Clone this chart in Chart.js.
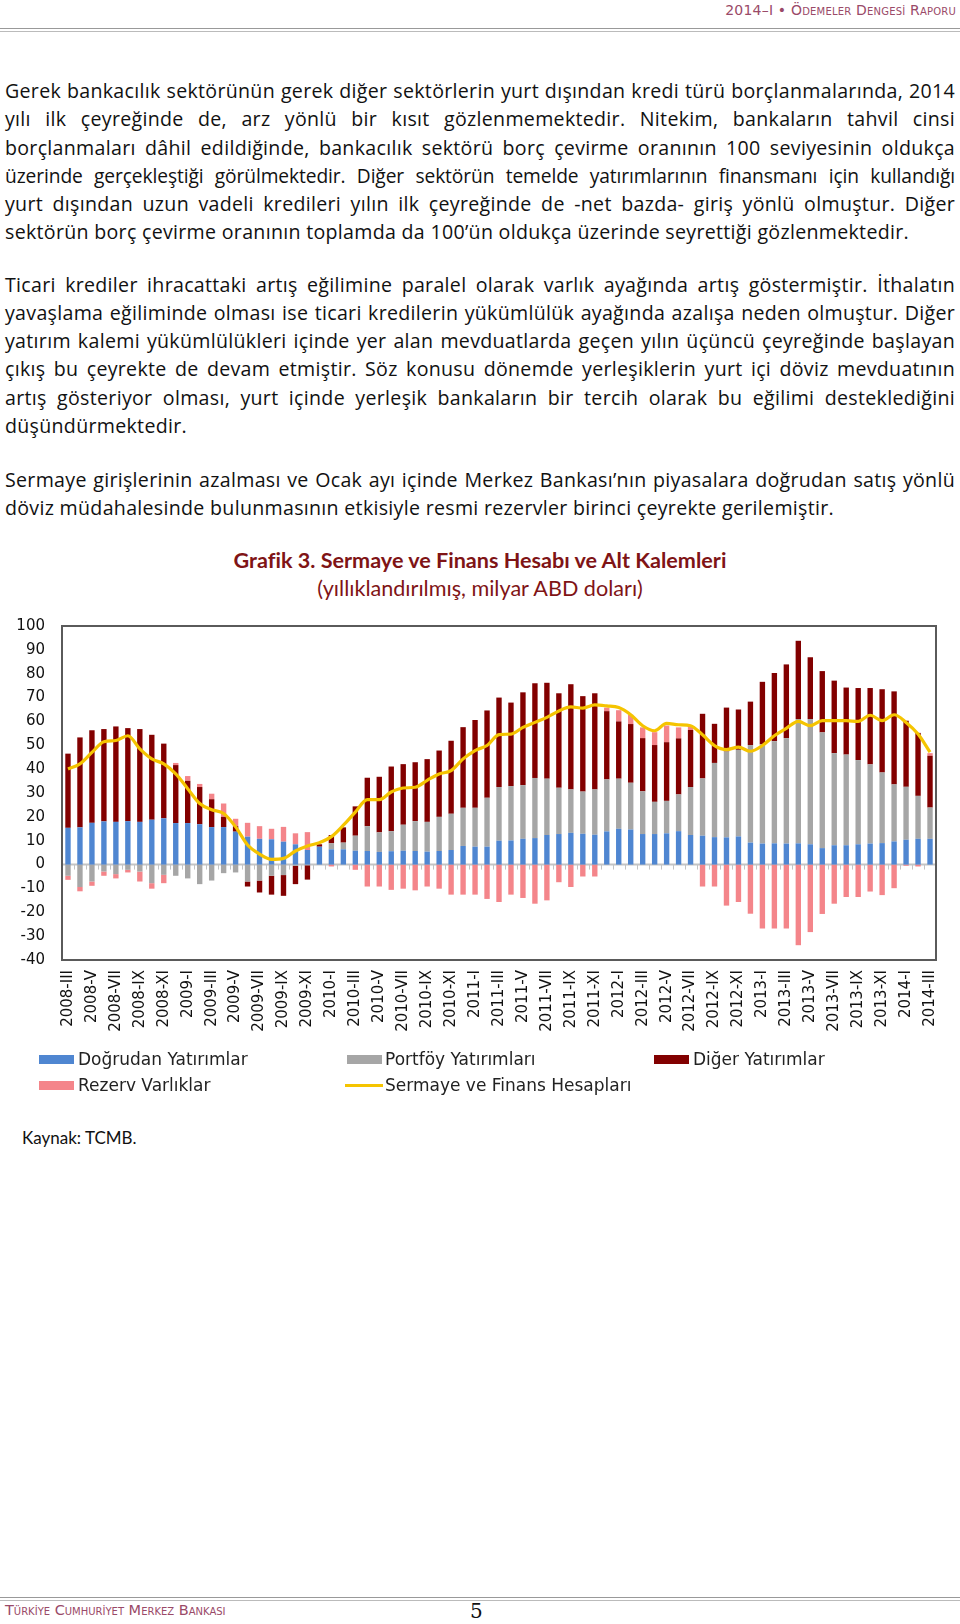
<!DOCTYPE html>
<html lang="tr">
<head>
<meta charset="utf-8">
<script src="https://cdn.jsdelivr.net/npm/chart.js@4.4.1/dist/chart.umd.min.js"></script>
<style>
  html, body { margin:0; padding:0; background:#fff; }
  body { width:960px; height:1624px; position:relative; overflow:hidden; font-family:'Lato','Open Sans',sans-serif; color:#111; }
  .hdr { position:absolute; right:4px; top:2px; font-family:'DejaVu Sans',sans-serif; font-size:14px; font-variant:small-caps; color:#9a4a68; letter-spacing:0.2px; }
  .rule { position:absolute; left:0; width:960px; height:2px; border-top:1px solid #999; border-bottom:1px solid #bbb; }
  .ln { position:absolute; left:5px; width:950px; height:28px; line-height:28px; font-size:19.6px; letter-spacing:0.3px; white-space:nowrap; font-family:'Open Sans',sans-serif; overflow:visible; }
  .j { text-align:justify; text-align-last:justify; white-space:normal; }
  .tight { letter-spacing:-0.1px; font-size:19.2px; }
  .title { position:absolute; left:0; width:960px; text-align:center; color:#7f1416; font-family:'Lato',sans-serif; }
  .leg { position:absolute; font-family:'DejaVu Sans',sans-serif; font-size:17px; color:#222; height:20px; line-height:20px; }
  .sw { position:absolute; width:35px; height:9px; }
  .src { position:absolute; left:22px; top:1127px; font-size:17px; font-family:'Lato',sans-serif; }
  .ftr { position:absolute; left:5px; top:1602px; font-family:'DejaVu Sans',sans-serif; font-size:14.5px; font-variant:small-caps; color:#9a4a68; }
  .pg { position:absolute; left:470px; top:1599px; font-family:'DejaVu Serif','Liberation Serif',serif; font-size:20px; }
</style>
</head>
<body>
<div class="hdr">2014–I • Ödemeler Dengesi Raporu</div>
<div class="rule" style="top:28px"></div>

<div class="ln j" style="top:77px">Gerek bankacılık sektörünün gerek diğer sektörlerin yurt dışından kredi türü borçlanmalarında, 2014</div>
<div class="ln j" style="top:105px">yılı ilk çeyreğinde de, arz yönlü bir kısıt gözlenmemektedir. Nitekim, bankaların tahvil cinsi</div>
<div class="ln j" style="top:134px">borçlanmaları dâhil edildiğinde, bankacılık sektörü borç çevirme oranının 100 seviyesinin oldukça</div>
<div class="ln j tight" style="top:162px">üzerinde gerçekleştiği görülmektedir. Diğer sektörün temelde yatırımlarının finansmanı için kullandığı</div>
<div class="ln j" style="top:190px">yurt dışından uzun vadeli kredileri yılın ilk çeyreğinde de -net bazda- giriş yönlü olmuştur. Diğer</div>
<div class="ln" style="top:218px">sektörün borç çevirme oranının toplamda da 100’ün oldukça üzerinde seyrettiği gözlenmektedir.</div>

<div class="ln j" style="top:271px">Ticari krediler ihracattaki artış eğilimine paralel olarak varlık ayağında artış göstermiştir. İthalatın</div>
<div class="ln j" style="top:299px">yavaşlama eğiliminde olması ise ticari kredilerin yükümlülük ayağında azalışa neden olmuştur. Diğer</div>
<div class="ln j" style="top:327px">yatırım kalemi yükümlülükleri içinde yer alan mevduatlarda geçen yılın üçüncü çeyreğinde başlayan</div>
<div class="ln j" style="top:355px">çıkış bu çeyrekte de devam etmiştir. Söz konusu dönemde yerleşiklerin yurt içi döviz mevduatının</div>
<div class="ln j" style="top:384px">artış gösteriyor olması, yurt içinde yerleşik bankaların bir tercih olarak bu eğilimi desteklediğini</div>
<div class="ln" style="top:412px">düşündürmektedir.</div>

<div class="ln j" style="top:466px">Sermaye girişlerinin azalması ve Ocak ayı içinde Merkez Bankası’nın piyasalara doğrudan satış yönlü</div>
<div class="ln" style="top:494px">döviz müdahalesinde bulunmasının etkisiyle resmi rezervler birinci çeyrekte gerilemiştir.</div>

<div class="title" style="top:547px;font-size:21.6px;font-weight:bold">Grafik 3. Sermaye ve Finans Hesabı ve Alt Kalemleri</div>
<div class="title" style="top:575px;font-size:21.6px">(yıllıklandırılmış, milyar ABD doları)</div>

<canvas id="c" width="960" height="450" style="position:absolute;left:0;top:600px"></canvas>

<div class="sw" style="left:39px;top:1055px;background:#4f86d1"></div>
<div class="leg" style="left:78px;top:1049px">Doğrudan Yatırımlar</div>
<div class="sw" style="left:347px;top:1055px;background:#a6a6a6"></div>
<div class="leg" style="left:385px;top:1049px">Portföy Yatırımları</div>
<div class="sw" style="left:654px;top:1055px;background:#820000"></div>
<div class="leg" style="left:693px;top:1049px">Diğer Yatırımlar</div>
<div class="sw" style="left:39px;top:1081px;background:#f4858a"></div>
<div class="leg" style="left:78px;top:1075px">Rezerv Varlıklar</div>
<div class="sw" style="left:345px;top:1084px;height:3px;width:38px;background:#f5c400"></div>
<div class="leg" style="left:385px;top:1075px">Sermaye ve Finans Hesapları</div>

<div class="src">Kaynak: TCMB.</div>

<div class="rule" style="top:1597px"></div>
<div class="ftr">Türkiye Cumhuriyet Merkez Bankası</div>
<div class="pg">5</div>

<script>
const months = [
 '2008-III','2008-IV','2008-V','2008-VI','2008-VII','2008-VIII','2008-IX','2008-X','2008-XI','2008-XII',
 '2009-I','2009-II','2009-III','2009-IV','2009-V','2009-VI','2009-VII','2009-VIII','2009-IX','2009-X','2009-XI','2009-XII',
 '2010-I','2010-II','2010-III','2010-IV','2010-V','2010-VI','2010-VII','2010-VIII','2010-IX','2010-X','2010-XI','2010-XII',
 '2011-I','2011-II','2011-III','2011-IV','2011-V','2011-VI','2011-VII','2011-VIII','2011-IX','2011-X','2011-XI','2011-XII',
 '2012-I','2012-II','2012-III','2012-IV','2012-V','2012-VI','2012-VII','2012-VIII','2012-IX','2012-X','2012-XI','2012-XII',
 '2013-I','2013-II','2013-III','2013-IV','2013-V','2013-VI','2013-VII','2013-VIII','2013-IX','2013-X','2013-XI','2013-XII',
 '2014-I','2014-II','2014-III'
];

const dogrudan = [
 15.4,15.6,17.5,18.1,17.9,18.2,17.9,18.8,19.4,17.4,
 17.4,16.9,15.7,15.7,13.8,11.7,10.8,10.6,9.6,8.5,6.1,7.5,
 6.4,6.4,5.8,5.7,5.3,5.6,5.8,5.7,5.4,5.7,6.1,7.8,
 7.5,7.5,10.0,10.1,10.8,11.1,12.4,12.8,13.3,12.9,12.5,13.9,
 15.0,14.7,12.8,12.8,13.1,14.0,12.4,12.1,11.5,11.4,11.8,9.2,
 8.8,8.9,8.8,8.9,8.5,6.9,8.1,8.1,8.5,8.8,9.0,9.7,
 10.4,10.8,10.8
];
const portfoy = [
 -4.7,-9.4,-7.1,-2.9,-4.0,-2.2,-2.9,-7.8,-4.3,-4.7,
 -5.8,-8.2,-6.7,-3.6,-3.3,-7.1,-6.7,-4.7,-4.4,-0.5,-0.3,0.0,
 2.5,2.8,6.3,10.4,8.2,8.4,10.9,12.5,12.5,14.3,15.2,16.0,
 16.3,20.5,22.5,22.8,22.5,25.2,23.6,19.4,18.2,17.7,19.0,21.8,
 21.0,19.6,17.9,13.5,13.6,15.4,20.1,24.0,31.1,36.0,36.3,40.9,
 41.6,42.8,44.2,52.1,52.5,48.5,38.6,38.0,35.3,33.2,29.6,23.9,
 22.2,18.0,13.1
];
const diger = [
 31.1,37.7,38.8,38.7,40.0,39.0,38.9,35.6,31.3,24.3,
 17.7,15.6,11.7,4.3,2.3,-2.1,-5.0,-7.9,-8.7,-7.7,-6.0,1.0,
 3.5,6.4,12.3,20.3,23.3,27.1,25.4,24.7,26.3,27.8,30.6,33.8,
 36.8,36.6,37.5,35.0,38.9,39.7,40.2,39.6,44.1,40.0,40.3,28.6,
 24.0,24.6,22.3,23.8,24.6,23.5,23.9,27.1,16.4,18.4,16.9,18.2,
 26.2,28.6,30.9,32.8,25.9,25.7,30.4,28.1,30.2,32.0,34.9,39.0,
 27.7,26.4,21.7
];
const rezerv = [
 -1.7,-1.8,-1.8,-1.8,-1.8,-1.1,-4.2,-2.3,-3.5,0.9,
 2.0,1.3,2.3,5.6,3.1,5.8,5.3,4.4,6.2,4.6,7.5,0.0,
 -0.8,0.0,-2.2,-9.2,-9.2,-10.6,-10.1,-10.8,-9.2,-10.1,-12.6,-12.6,
 -12.6,-14.4,-15.7,-12.6,-14.0,-16.4,-15.0,-7.4,-9.4,-5.0,-5.0,1.5,
 4.7,3.9,4.5,5.4,7.0,4.6,1.4,-9.2,-9.2,-17.2,-15.7,-20.6,
 -26.8,-26.8,-26.8,-33.8,-28.3,-20.7,-16.4,-13.6,-13.6,-11.3,-12.8,-9.9,
 -0.5,-0.8,1.1
];
const toplam = [
 40.1,42.2,47.0,51.5,52.0,54.0,48.5,44.3,42.2,38.0,
 31.8,25.6,23.0,21.4,15.8,8.2,4.4,2.2,2.6,5.7,7.8,9.2,
 11.7,16.5,22.0,27.2,27.2,30.4,32.1,32.4,35.3,38.0,39.4,44.3,
 47.8,49.9,54.5,54.7,57.5,59.6,61.7,64.4,66.1,65.6,66.9,66.5,
 65.8,62.8,58.2,56.1,59.2,58.6,58.2,54.4,49.9,48.2,49.2,47.5,
 49.9,54.0,57.1,60.0,58.2,60.3,60.3,60.3,60.0,62.6,60.3,62.8,
 59.6,54.7,47.1
];
const yTicks = [100,90,80,70,60,50,40,30,20,10,0,-10,-20,-30,-40];

const frame = {
  id:'frame',
  beforeDatasetsDraw(chart){
    const {ctx, chartArea:a, scales:{x,y}} = chart;
    const y0 = y.getPixelForValue(0);
    ctx.save();
    ctx.strokeStyle = '#c4c4c4';
    ctx.lineWidth = 2;
    ctx.beginPath(); ctx.moveTo(a.left, y0); ctx.lineTo(a.right, y0); ctx.stroke();
    ctx.lineWidth = 1;
    for (let i = 0; i <= months.length; i++) {
      const px = Math.round(i < months.length ? x.getPixelForValue(i) - (x.getPixelForValue(1)-x.getPixelForValue(0))/2 : a.right) + 0.5;
      ctx.beginPath(); ctx.moveTo(px, y0); ctx.lineTo(px, y0 + 5); ctx.stroke();
    }
    ctx.restore();
  },
  afterDraw(chart){
    const {ctx, chartArea:a} = chart;
    ctx.save();
    ctx.strokeStyle = '#5a5a5a';
    ctx.lineWidth = 2;
    ctx.strokeRect(a.left, a.top, a.right - a.left, a.bottom - a.top);
    ctx.restore();
  }
};

new Chart(document.getElementById('c'), {
  data: {
    labels: months,
    datasets: [
      { type:'line', label:'Sermaye ve Finans Hesapları', data: toplam, borderColor:'#f5c400', borderWidth:3.2, pointRadius:0, tension:0.4, stack:'line', order:0, cubicInterpolationMode:'monotone' },
      { type:'bar', label:'Doğrudan Yatırımlar', data: dogrudan, backgroundColor:'#4f86d1', stack:'s', order:1 },
      { type:'bar', label:'Portföy Yatırımları', data: portfoy, backgroundColor:'#a6a6a6', stack:'s', order:1 },
      { type:'bar', label:'Diğer Yatırımlar', data: diger, backgroundColor:'#820000', stack:'s', order:1 },
      { type:'bar', label:'Rezerv Varlıklar', data: rezerv, backgroundColor:'#f4858a', stack:'s', order:1 }
    ]
  },
  options: {
    responsive:false,
    animation:false,
    datasets:{ bar:{ categoryPercentage:1, barPercentage:0.45 } },
    layout:{ padding:{ top:22, right:24, left:0, bottom:0 } },
    plugins:{ legend:{ display:false }, tooltip:{ enabled:false } },
    scales:{
      x:{
        stacked:true, offset:true,
        grid:{ display:false, drawTicks:false },
        border:{ display:false },
        afterFit(s){ s.height = 90; },
        ticks:{ autoSkip:false, maxRotation:90, minRotation:90, padding:10, color:'#111',
          font:{ family:'DejaVu Sans', size:15 },
          callback(v, i){ return i % 2 === 0 ? months[i] : ''; } }
      },
      y:{
        stacked:true, min:-40, max:100,
        grid:{ display:false, drawTicks:false },
        border:{ display:false },
        afterFit(s){ s.width = 62; },
        afterBuildTicks(s){ s.ticks = yTicks.map(v => ({ value:v })); },
        ticks:{ padding:17, color:'#111', font:{ family:'DejaVu Sans', size:15 } }
      }
    }
  },
  plugins:[frame]
});
</script>
</body>
</html>
